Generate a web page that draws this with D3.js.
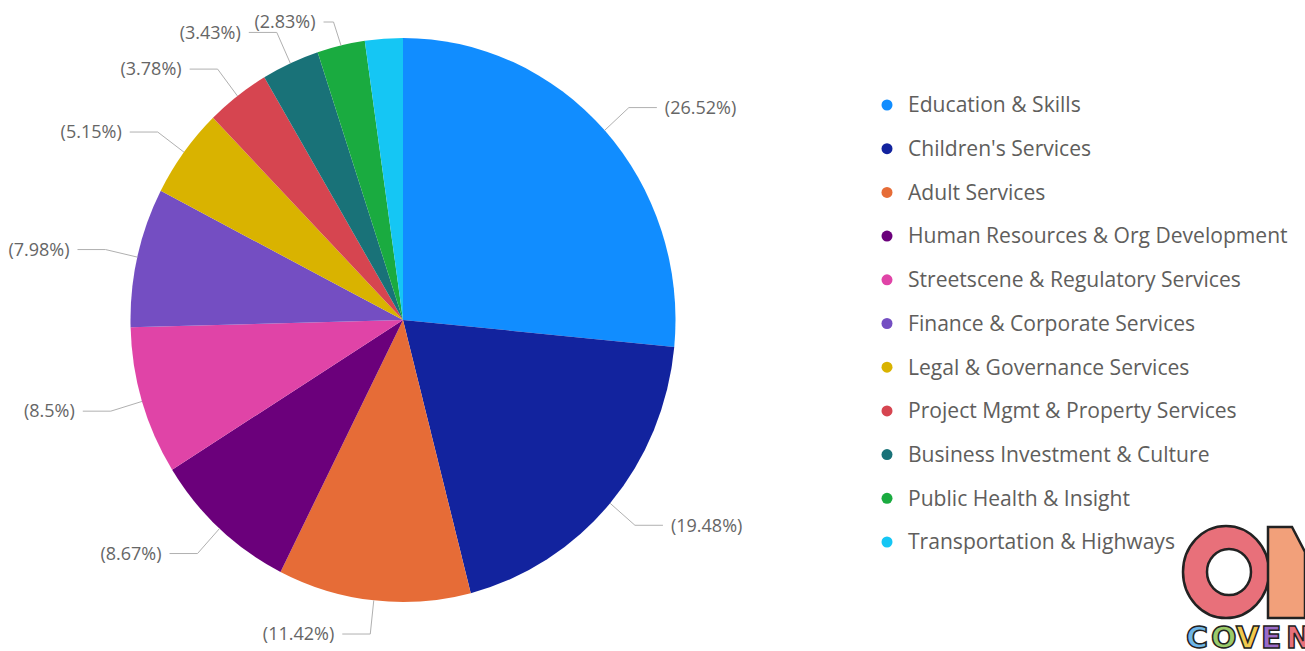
<!DOCTYPE html>
<html>
<head>
<meta charset="utf-8">
<script src="https://cdn.jsdelivr.net/npm/d3@7"></script>
<style>
  html, body { margin: 0; padding: 0; background: #fff; }
  svg { display: block; }
</style>
</head>
<body>
<svg id="chart" width="1305" height="651"></svg>
<script>
const categories = [
  "Education & Skills",
  "Children's Services",
  "Adult Services",
  "Human Resources & Org Development",
  "Streetscene & Regulatory Services",
  "Finance & Corporate Services",
  "Legal & Governance Services",
  "Project Mgmt & Property Services",
  "Business Investment & Culture",
  "Public Health & Insight",
  "Transportation & Highways"
];
const values = [26.52, 19.48, 11.42, 8.67, 8.5, 7.98, 5.15, 3.78, 3.43, 2.83, 2.24];
const labelTexts = ["(26.52%)", "(19.48%)", "(11.42%)", "(8.67%)", "(8.5%)", "(7.98%)",
                    "(5.15%)", "(3.78%)", "(3.43%)", "(2.83%)", "(2.24%)"];
const colors = ["#118DFF", "#12239E", "#E66C37", "#6B007B", "#E044A7", "#744EC2",
                "#D9B300", "#D64550", "#197278", "#1AAB40", "#15C6F4"];

const svg = d3.select("#chart");
const cx = 403, cy = 320, rx = 272.5, ry = 282;
const FONT = "'Segoe UI', 'Open Sans', 'Noto Sans', sans-serif";

const pie = d3.pie().value(d => d).sort(null);
const arcs = pie(values);
const arc = d3.arc().innerRadius(0).outerRadius(rx);

const g = svg.append("g").attr("transform", `translate(${cx},${cy}) scale(1,${ry / rx})`);
g.selectAll("path").data(arcs).join("path")
  .attr("d", arc)
  .attr("fill", (d, i) => colors[i]);

// labels
function pt(angle, k) {
  return [cx + rx * k * Math.sin(angle), cy - ry * k * Math.cos(angle)];
}
const labels = arcs.map((d, i) => {
  const a = (d.startAngle + d.endAngle) / 2;
  const s = pt(a, 1.0);
  const e = pt(a, 1.12);
  return { i, a, s, ex: e[0], y: e[1], right: Math.sin(a) >= 0, seg: 28 };
});
// simple collision resolution per side
const minGap = 20;
[true, false].forEach(side => {
  const L = labels.filter(l => l.right === side).sort((a, b) => b.y - a.y);
  for (let k = 1; k < L.length; k++) {
    if (L[k].y > L[k - 1].y - minGap) L[k].y = L[k - 1].y - minGap;
  }
});
// labels pushed beyond the top are not shown; those near the top are kept inside
const topLimit = 22;
labels.forEach(l => {
  l.hidden = l.y < 0;
  if (!l.hidden && l.y < topLimit) { l.y = topLimit; l.seg = 10; }
});

const lg = svg.append("g");
labels.filter(l => !l.hidden).forEach(l => {
  const dir = l.right ? 1 : -1;
  const hx = l.ex + dir * l.seg;
  lg.append("polyline")
    .attr("points", [l.s, [l.ex, l.y], [hx, l.y]].map(p => p.join(",")).join(" "))
    .attr("fill", "none")
    .attr("stroke", "#b0b0b0")
    .attr("stroke-width", 1);
  lg.append("text")
    .attr("x", hx + dir * 8)
    .attr("y", l.y)
    .attr("dy", "0.35em")
    .attr("text-anchor", l.right ? "start" : "end")
    .attr("font-family", FONT)
    .attr("font-size", 18)
    .attr("fill", "#666666")
    .text(labelTexts[l.i]);
});

// legend
const legendY = d3.scalePoint().domain(categories).range([105, 542]);
const leg = svg.append("g");
const items = leg.selectAll("g").data(categories).join("g")
  .attr("transform", d => `translate(0,${legendY(d)})`);
items.append("circle").attr("cx", 887).attr("cy", 0).attr("r", 5.5)
  .attr("fill", (d, i) => colors[i]);
const texts = items.append("text")
  .attr("x", 908).attr("y", 0).attr("dy", "0.35em")
  .attr("font-family", FONT)
  .attr("font-size", 16)
  .attr("fill", "#605E5C")
  .text(d => d);
// fit longest legend entry to the reference width
const maxW = d3.max(texts.nodes(), n => n.getComputedTextLength());
const fs = 16 * 380 / maxW;
texts.attr("font-size", fs);

// logo (partially cut off at the corner)
const logo = svg.append("g");
logo.append("ellipse").attr("cx", 1226).attr("cy", 572).attr("rx", 43).attr("ry", 46)
  .attr("fill", "#E8707A").attr("stroke", "#222").attr("stroke-width", 2.5);
logo.append("ellipse").attr("cx", 1229).attr("cy", 572).attr("rx", 22).attr("ry", 23)
  .attr("fill", "#fff").attr("stroke", "#222").attr("stroke-width", 2.5);
logo.append("path")
  .attr("d", "M1268,527 L1292,527 L1305,552 L1305,618 L1268,618 Z")
  .attr("fill", "#F2A07A").attr("stroke", "#222").attr("stroke-width", 2.5);
const cov = [["C", "#6EB6E8"], ["O", "#9BCB6A"], ["V", "#F2C94C"], ["E", "#9A6BC9"], ["N", "#E8707A"]];
cov.forEach((c, k) => {
  logo.append("text")
    .attr("x", 1186 + k * 25).attr("y", 648)
    .attr("font-family", "'DejaVu Sans', sans-serif")
    .attr("font-weight", "bold")
    .attr("font-size", 30)
    .attr("fill", c[1]).attr("stroke", "#222").attr("stroke-width", 1.5)
    .text(c[0]);
});
</script>
</body>
</html>
